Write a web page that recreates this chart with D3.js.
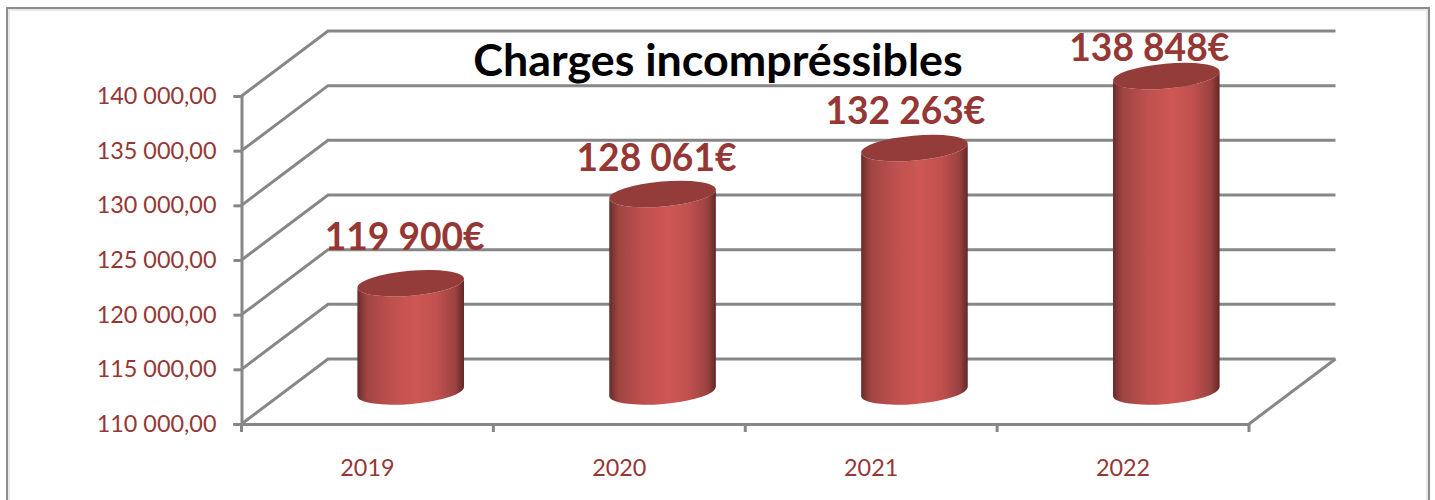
<!DOCTYPE html>
<html>
<head>
<meta charset="utf-8">
<script src="https://cdn.jsdelivr.net/npm/d3@7"></script>
<style>
    html, body { margin: 0; padding: 0; background: #fff; overflow: hidden; }
    svg { display: block; font-family: Lato, "Open Sans", sans-serif; }
</style>
</head>
<body>
<svg id="chart"></svg>
<script>
const title = "Charges incompréssibles";
const years = ["2019", "2020", "2021", "2022"];
const charges = [119900, 128061, 132263, 138848];
const yTicks = [110000, 115000, 120000, 125000, 130000, 135000, 140000];

const width = 1435;
const height = 500;
const gray = "#878787";
const textRed = "#953735";

// the 3D box: front plane plus how far the back wall is pushed away
const plot = { left: 241.5, right: 1249, top: 96, bottom: 424 };
const depth = { x: 86.5, y: -65 };
// cylinders stand halfway into the box
const mid = { x: depth.x / 2, y: depth.y / 2 };
const cyl = { rx: 53.5, ry: 12.5, tilt: -5 };
// the labels were moved by hand in the original, so they do not sit at a fixed distance
const labelShift = [[-6, -46], [-6, -36], [-9, -37], [-17, -28]];

const fr = d3.formatLocale({ decimal: ",", thousands: " ", grouping: [3], currency: ["", "€"] });

const svg = d3.select("#chart")
    .attr("width", width)
    .attr("height", height);

const xScale = d3.scaleBand()
    .domain(years)
    .range([plot.left, plot.right]);

const yScale = d3.scaleLinear()
    .domain([110000, 140000])
    .range([plot.bottom, plot.top]);

const defs = svg.append("defs");
const grad = defs.append("linearGradient").attr("id", "cylinder");
[[0, "#642b29"], [0.03, "#7c3533"], [0.09, "#a04543"], [0.32, "#be504d"], [0.55, "#ce5755"],
    [0.75, "#c0514e"], [0.92, "#9a4240"], [1, "#622726"]].forEach(s => {
    grad.append("stop").attr("offset", s[0]).attr("stop-color", s[1]);
});

// chart frame, runs off the bottom of the picture
svg.append("rect")
    .attr("x", 9).attr("y", 10)
    .attr("width", 1418).attr("height", 520)
    .attr("fill", "none").attr("stroke", "#e9e9e9").attr("stroke-width", 2);
svg.append("rect")
    .attr("x", 7).attr("y", 8)
    .attr("width", 1422).attr("height", 520)
    .attr("fill", "none").attr("stroke", "#8c8c8c").attr("stroke-width", 2);

// gridlines on the side wall and the back wall
const grid = svg.append("g")
    .attr("fill", "none")
    .attr("stroke", gray)
    .attr("stroke-width", 3);

grid.selectAll("path")
    .data(yTicks)
    .enter()
    .append("path")
    .attr("d", d => `M${plot.left},${yScale(d)}L${plot.left + depth.x},${yScale(d) + depth.y}H${plot.right + depth.x}`);

// floor edge on the right
grid.append("path")
    .attr("d", `M${plot.right},${plot.bottom}L${plot.right + depth.x},${plot.bottom + depth.y}`);

const yAxis = svg.append("g")
    .attr("transform", `translate(${plot.left}, 0)`)
    .call(d3.axisLeft(yScale)
        .tickValues(yTicks)
        .tickFormat(fr.format(",.2f"))
        .tickSize(8)
        .tickPadding(17));

const xAxis = svg.append("g")
    .attr("transform", `translate(0, ${plot.bottom})`)
    .call(d3.axisBottom(xScale).tickSize(0).tickPadding(35));

[yAxis, xAxis].forEach(axis => {
    axis.attr("font-family", null).attr("font-size", null);
    axis.selectAll("text").attr("fill", textRed).style("font-size", "23.4px");
    axis.selectAll("line").attr("stroke", gray).attr("stroke-width", 3);
    axis.select(".domain").attr("stroke", gray).attr("stroke-width", 3);
});

// category ticks sit between the bars, not under them
xAxis.selectAll(".edge")
    .data([...years.map(d => xScale(d)), plot.right])
    .enter()
    .append("line")
    .attr("class", "edge")
    .attr("x1", d => d).attr("x2", d => d)
    .attr("y1", 0).attr("y2", 8)
    .attr("stroke", gray).attr("stroke-width", 3);

xAxis.select(".domain").attr("d", `M${plot.left - 8},0.5H${plot.right}`);

const bars = svg.selectAll(".bar")
    .data(years.map((y, i) => ({ year: y, value: charges[i], shift: labelShift[i] })))
    .enter()
    .append("g")
    .attr("class", "bar")
    .attr("transform", d => `translate(${xScale(d.year) + xScale.bandwidth() / 2 + mid.x}, 0)`);

const rad = cyl.tilt * Math.PI / 180;
const ex = cyl.rx * Math.cos(rad);
const ey = cyl.rx * Math.sin(rad);

bars.append("path")
    .attr("fill", "url(#cylinder)")
    .attr("d", d => {
        const top = yScale(d.value) + mid.y;
        const base = plot.bottom + mid.y;
        return `M${-ex},${top - ey}V${base - ey}`
            + `A${cyl.rx},${cyl.ry} ${cyl.tilt} 0 0 ${ex},${base + ey}`
            + `V${top + ey}`
            + `A${cyl.rx},${cyl.ry} ${cyl.tilt} 0 1 ${-ex},${top - ey}Z`;
    });

bars.append("ellipse")
    .attr("rx", cyl.rx)
    .attr("ry", cyl.ry)
    .attr("fill", "#933c3a")
    .attr("transform", d => `translate(0, ${yScale(d.value) + mid.y}) rotate(${cyl.tilt})`);

bars.append("text")
    .attr("x", d => d.shift[0])
    .attr("y", d => yScale(d.value) + mid.y + d.shift[1])
    .attr("dy", "0.35em")
    .attr("text-anchor", "middle")
    .attr("fill", textRed)
    .style("font-size", "37.2px")
    .style("font-weight", 700)
    .text(d => fr.format(",.0f")(d.value) + "€");

svg.append("text")
    .attr("x", 718)
    .attr("y", 60)
    .attr("dy", "0.35em")
    .attr("text-anchor", "middle")
    .attr("fill", "#000")
    .style("font-size", "44.8px")
    .style("font-weight", 700)
    .text(title);
</script>
</body>
</html>
